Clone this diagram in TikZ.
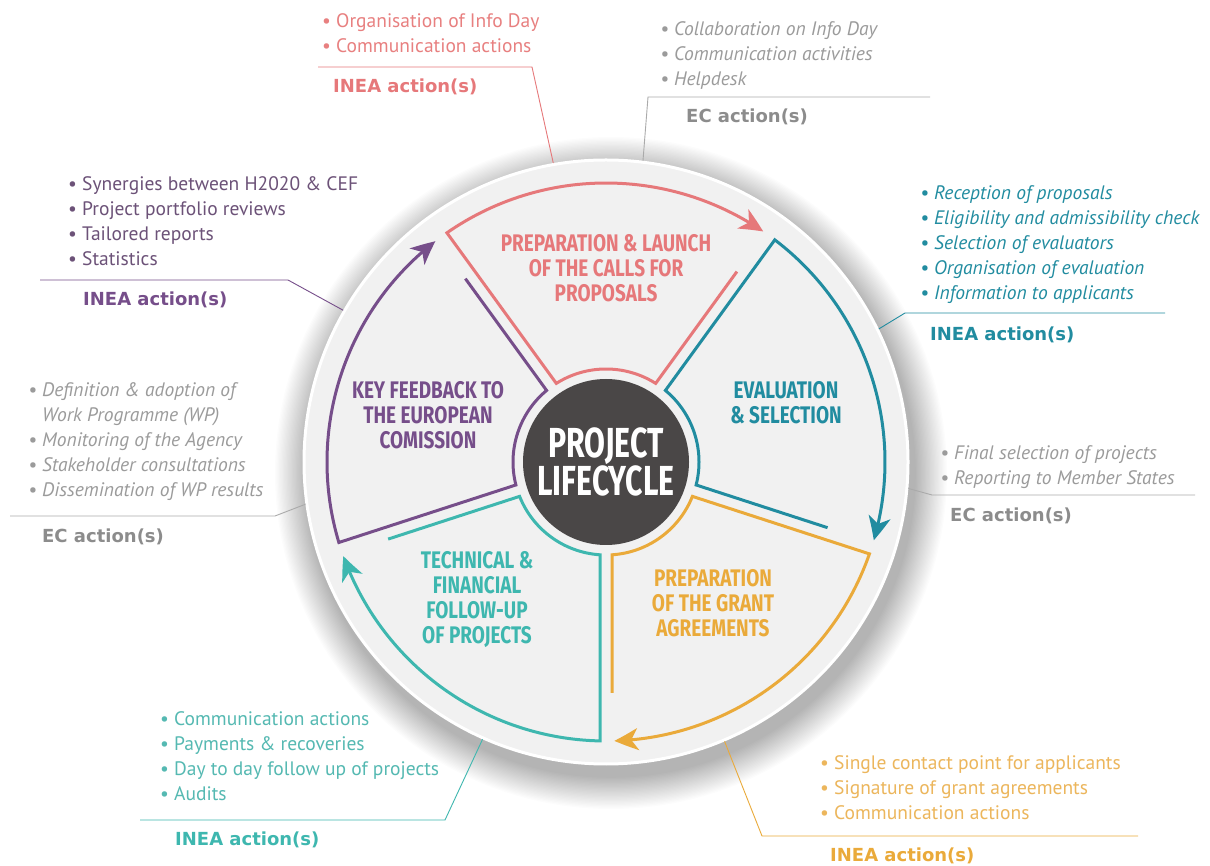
\documentclass[tikz,border=0pt]{standalone}
\usepackage{fontspec}
\usetikzlibrary{arrows.meta,bending,calc}
\newfontfamily\bulletfont{PT Sans}
\newfontfamily\headfont{DejaVu Sans}
\newfontfamily\condfont{Fira Sans}[FakeStretch=0.79]
\newfontfamily\centerfont{Fira Sans}[FakeStretch=0.72]
\definecolor{cred}{RGB}{230,120,122}
\definecolor{credt}{RGB}{232,128,128}
\definecolor{cteal}{RGB}{33,140,160}
\definecolor{corange}{RGB}{234,170,58}
\definecolor{corangt}{RGB}{236,182,92}
\definecolor{ccyan}{RGB}{62,183,175}
\definecolor{ccyant}{RGB}{85,185,178}
\definecolor{cpurple}{RGB}{118,78,138}
\definecolor{cpurplet}{RGB}{108,82,120}
\definecolor{cgreyt}{RGB}{155,155,155}
\definecolor{cgreyh}{RGB}{140,140,140}
\definecolor{cgreyl}{RGB}{170,170,170}
\definecolor{diskc}{RGB}{241,241,241}
\definecolor{corec}{RGB}{74,71,71}
\newcommand{\lifeseg}[3]{%
  \draw[segline,#1] ($(O)+(#3:231)+(#3+90:6)$) -- ($(O)+(#3+3.7:93)$)
    arc[start angle=#3+3.7, end angle=#2-3.7, radius=93]
    -- ($(O)+(#2-1.23:279)$)
    arc[start angle=#2-1.23, end angle=#3+1.7, radius=279];}
\begin{document}
\begin{tikzpicture}[x=1pt,y=1pt,
  bulletblk/.style={anchor=north west, inner sep=0, align=left, font=\bulletfont\fontsize{19.5}{25}\selectfont},
  itblk/.style={bulletblk, font=\bulletfont\itshape\fontsize{19.5}{25}\selectfont},
  headblk/.style={anchor=west, inner sep=0, font=\headfont\bfseries\fontsize{18}{22}\selectfont},
  seglabel/.style={align=center, inner sep=0, font=\condfont\bfseries\fontsize{24}{25}\selectfont},
  segline/.style={line width=3pt, -{Stealth[length=24pt, width=22pt, inset=7pt, bend]}},
  conn/.style={line width=0.9pt}]
\useasboundingbox (0,0) rectangle (1210,865);
\fill[white] (0,0) rectangle (1210,865);
\coordinate (O) at (606,403);
% shadow
\foreach \i in {0,...,24}{\fill[black,opacity=0.013] ($(O)+(5,-11)$) circle[radius=336-1.3*\i];}
\node[circle, minimum size=604pt, inner sep=0, fill=diskc, draw=white, line width=3pt] (disk) at (O) {};
\node[circle, minimum size=166pt, inner sep=0, fill=corec, text=white, align=center,
  font=\centerfont\bfseries\fontsize{42}{38}\selectfont] (core) at (O) {PROJECT\\LIFECYCLE};
% segments
\lifeseg{cred}{126}{54}
\lifeseg{cteal}{54}{-18}
\lifeseg{corange}{-18}{-90}
\lifeseg{ccyan}{-90}{-162}
\lifeseg{cpurple}{198}{126}
% segment labels
\node[seglabel, text=cred] (lprep) at (606,597) {PREPARATION \& LAUNCH\\OF THE CALLS FOR\\PROPOSALS};
\node[seglabel, text=cteal] (leval) at (786,462.5) {EVALUATION\\\& SELECTION};
\node[seglabel, text=corange] (lgrant) at (713,262) {PREPARATION\\OF THE GRANT\\AGREEMENTS};
\node[seglabel, text=ccyan] (ltech) at (477,265.5) {TECHNICAL \&\\FINANCIAL\\FOLLOW-UP\\OF PROJECTS};
\node[seglabel, text=cpurple] (lkey) at (428,450) {KEY FEEDBACK TO\\THE EUROPEAN\\COMISSION};
% text blocks
\node[bulletblk, text=credt] (tred) at (322,852) {• Organisation of Info Day\\• Communication actions};
\node[headblk, text=cred] (hred) at (333,778) {INEA action(s)};
\node[itblk, text=cgreyt] (tect) at (660,844) {• Collaboration on Info Day\\• Communication activities\\• Helpdesk};
\node[headblk, text=cgreyh] (hect) at (686,748) {EC action(s)};
\node[itblk, text=cteal] (tteal) at (920,680) {• Reception of proposals\\• Eligibility and admissibility check\\• Selection of evaluators\\• Organisation of evaluation\\• Information to applicants};
\node[headblk, text=cteal] (hteal) at (930,530) {INEA action(s)};
\node[itblk, text=cgreyt] (tecr) at (940,420) {• Final selection of projects\\• Reporting to Member States};
\node[headblk, text=cgreyh] (hecr) at (950,349) {EC action(s)};
\node[bulletblk, text=corangt] (torange) at (820,110) {• Single contact point for applicants\\• Signature of grant agreements\\• Communication actions};
\node[headblk, text=corange] (horange) at (830,9) {INEA action(s)};
\node[bulletblk, text=ccyant] (tcyan) at (160,154) {• Communication actions\\• Payments \& recoveries\\• Day to day follow up of projects\\• Audits};
\node[headblk, text=ccyan] (hcyan) at (175,25) {INEA action(s)};
\node[itblk, text=cgreyt] (tecl) at (28,483) {• Definition \& adoption of\\\hphantom{• }Work Programme (WP)\\• Monitoring of the Agency\\• Stakeholder consultations\\• Dissemination of WP results};
\node[headblk, text=cgreyh] (hecl) at (42,328) {EC action(s)};
\node[bulletblk, text=cpurplet] (tpurple) at (68,689) {• Synergies between H2020 \& CEF\\• Project portfolio reviews\\• Tailored reports\\• Statistics};
\node[headblk, text=cpurple] (hpurple) at (83,565) {INEA action(s)};
% connectors
\coordinate (rA) at (318,798); \coordinate (rB) at (532,798);
\draw[conn,cred] (rA) -- (rB) -- (disk.100.7);
\coordinate (gtA) at (930,768); \coordinate (gtB) at (648,768);
\draw[conn,cgreyl] (gtA) -- (gtB) -- (disk.83.5);
\coordinate (tA) at (1165,552); \coordinate (tB) at (905,552);
\draw[conn,cteal] (tA) -- (tB) -- (disk.26);
\coordinate (grA) at (1195,370); \coordinate (grB) at (932,370);
\draw[conn,cgreyl] (grA) -- (grB) -- (disk.-5);
\coordinate (oA) at (1138,29); \coordinate (oB) at (762,29);
\draw[conn,corange] (oA) -- (oB) -- (disk.-67);
\coordinate (cA) at (140,45); \coordinate (cB) at (445,45);
\draw[conn,ccyan] (cA) -- (cB) -- (disk.246);
\coordinate (glA) at (10,349); \coordinate (glB) at (275,349);
\draw[conn,cgreyl] (glA) -- (glB) -- (disk.188.8);
\coordinate (pA) at (40,585); \coordinate (pB) at (288,585);
\draw[conn,cpurple] (pA) -- (pB) -- (disk.150);
\end{tikzpicture}
\end{document}
